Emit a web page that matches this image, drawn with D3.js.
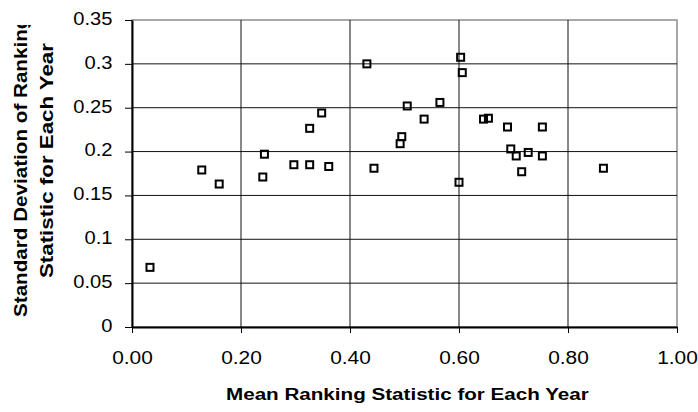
<!DOCTYPE html>
<html><head><meta charset="utf-8">
<script src="https://cdn.jsdelivr.net/npm/d3@7"></script>
<style>
body{margin:0;background:#fff}
svg{display:block}
text{font-family:Arial,"Liberation Sans",sans-serif;fill:#000}
</style>
</head><body>
<svg id="chart" width="698" height="412"></svg>
<script>
// ---- data ----
const meanRank = [0.033,0.128,0.160,0.240,0.243,0.297,0.326,0.326,0.348,0.361,
                  0.431,0.444,0.492,0.495,0.505,0.536,0.565,0.600,0.603,0.606,
                  0.645,0.654,0.689,0.695,0.705,0.715,0.727,0.753,0.753,0.865];
const stdDev   = [0.068,0.179,0.163,0.171,0.197,0.185,0.185,0.2265,0.244,0.183,
                  0.300,0.181,0.209,0.217,0.252,0.237,0.256,0.165,0.3075,0.290,
                  0.237,0.238,0.228,0.203,0.195,0.177,0.199,0.228,0.195,0.181];
const xTicks = [0,0.2,0.4,0.6,0.8,1.0];
const xTickLabels = ["0.00","0.20","0.40","0.60","0.80","1.00"];
const yTicks = [0,0.05,0.1,0.15,0.2,0.25,0.3,0.35];
const yTickLabels = ["0","0.05","0.1","0.15","0.2","0.25","0.3","0.35"];
const xTitle = "Mean Ranking Statistic for Each Year";
const yTitleLines = ["Standard Deviation of Ranking","Statistic for Each Year"];

// ---- layout ----
const L = 132, R = 677, T = 20, B = 327;
const svg = d3.select("#chart");
const x = d3.scaleLinear().domain([0,1]).range([L,R]);
const y = d3.scaleLinear().domain([0,0.35]).range([B,T]);

// plot border (grey)
svg.append("rect").attr("x",L).attr("y",T).attr("width",R-L).attr("height",B-T)
  .attr("fill","none").attr("stroke","#8c8c8c").attr("stroke-width",1.5);

// gridlines
svg.append("g").selectAll("line").data(yTicks.filter(d=>d>0 && d<0.35)).join("line")
  .attr("x1",L).attr("x2",R).attr("y1",d=>y(d)).attr("y2",d=>y(d))
  .attr("stroke","#111").attr("stroke-width",1);
svg.append("g").selectAll("line").data(xTicks.filter(d=>d>0 && d<1)).join("line")
  .attr("y1",T).attr("y2",B).attr("x1",d=>x(d)).attr("x2",d=>x(d))
  .attr("stroke","#111").attr("stroke-width",1);

// axes
const sxT = 1.12;
const yAxis = svg.append("g").attr("transform",`translate(${L},0)`)
  .call(d3.axisLeft(y).tickValues(yTicks).tickSize(7).tickSizeOuter(0)
        .tickFormat((d,i)=>yTickLabels[i]));
yAxis.select(".domain").attr("stroke","#000").attr("stroke-width",2);
yAxis.selectAll(".tick line").attr("stroke","#000");
yAxis.selectAll(".tick text").attr("font-size",18).attr("dy",0).attr("y",4.3)
  .attr("x",(112.5-L)/sxT).attr("transform",`scale(${sxT},1)`);

const xAxis = svg.append("g").attr("transform",`translate(0,${B})`)
  .call(d3.axisBottom(x).tickValues(xTicks).tickSize(6).tickSizeOuter(0)
        .tickFormat((d,i)=>xTickLabels[i]));
xAxis.select(".domain").attr("stroke","#000").attr("stroke-width",2);
xAxis.selectAll(".tick line").attr("stroke","#000");
xAxis.selectAll(".tick text").attr("font-size",19).attr("dy",0).attr("y",37)
  .attr("transform",`scale(1.1,1)`);

// markers
const pts = meanRank.map((m,i)=>({m, s: stdDev[i]}));
svg.append("g").selectAll("rect").data(pts).join("rect")
  .attr("x",d=>x(d.m)-3.5).attr("y",d=>y(d.s)-3.5)
  .attr("width",7).attr("height",7)
  .attr("fill","none").attr("stroke","#000").attr("stroke-width",2);

// x title
const xt = svg.append("text").attr("font-size",17).attr("font-weight","bold")
  .attr("x",0).attr("y",0).text(xTitle);
const xtLen = xt.node().getComputedTextLength();
xt.attr("transform",`translate(226,400) scale(${363/xtLen},1)`);

// y title (clipped at top)
svg.append("defs").append("clipPath").attr("id","yclip")
  .append("rect").attr("x",0).attr("y",25).attr("width",70).attr("height",387);
const yg = svg.append("g").attr("clip-path","url(#yclip)");
// line 1: "…Rankin" should end near y=29; line 2 spans 278 -> 43
const yPos = [{bx:27, by:317, sub:28, len:288},{bx:53, by:278, sub:null, len:235}];
yTitleLines.forEach((line,i)=>{
  const t = yg.append("text").attr("font-size",19).attr("font-weight","bold").text(line);
  const p = yPos[i];
  const nat = p.sub ? t.node().getSubStringLength(0,p.sub) : t.node().getComputedTextLength();
  const f = p.len/nat;
  t.attr("transform",`translate(${p.bx},${p.by}) rotate(-90) scale(${f},1)`);
});
</script>
</body></html>
